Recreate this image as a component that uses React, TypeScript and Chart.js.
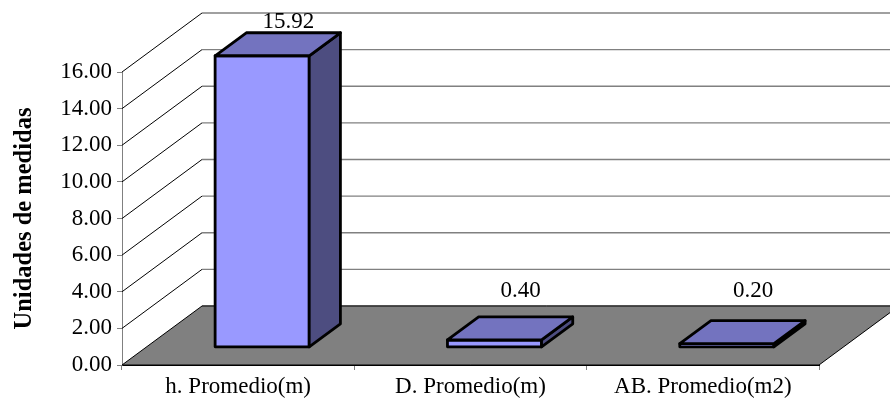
import React, { useEffect, useRef } from "react";
import { Chart, registerables } from "chart.js";

Chart.register(...registerables);

// Data
const categories = ["h. Promedio(m)", "D. Promedio(m)", "AB. Promedio(m2)"];
const values = [15.92, 0.4, 0.2];
const valueLabels = ["15.92", "0.40", "0.20"];
const yTitle = "Unidades de medidas";
const yMin = 0;
const yMax = 16;
const yStep = 2;

// Styling
const FONT_FAMILY = "'Liberation Serif', 'Times New Roman', serif";
const FONT_SIZE = 23;
const TITLE_SIZE = 24.5;
const DEPTH_X = 80; // receding direction of the 3D box
const DEPTH_Y = -59;
const BAR_FRONT = 0.3; // bar depth range as a fraction of the floor depth
const BAR_BACK = 0.69;
const FRONT_COLOR = "#9999FF";
const TOP_COLOR = "#7373BF";
const SIDE_COLOR = "#4D4D80";
const FLOOR_COLOR = "#808080";
const WALL_LINE = "#808080";

const box3d = {
  id: "box3d",
  beforeDatasetsDraw(chart: any) {
    const { ctx, chartArea, scales } = chart;
    const ys = scales.y;
    const left = chartArea.left;
    const right = chartArea.right;
    const y0 = ys.getPixelForValue(yMin);
    ctx.save();
    // back wall gridlines and their diagonals on the side wall
    for (let v = yMin; v <= yMax + 1e-9; v += yStep) {
      const py = ys.getPixelForValue(v);
      const bx = left + DEPTH_X;
      const by = py + DEPTH_Y;
      if (v > yMin) {
        ctx.strokeStyle = "#000";
        ctx.lineWidth = 1;
        ctx.beginPath();
        ctx.moveTo(left, py);
        ctx.lineTo(bx, by);
        ctx.stroke();
      }
      ctx.strokeStyle = WALL_LINE;
      ctx.lineWidth = 1.3;
      ctx.beginPath();
      ctx.moveTo(bx, by);
      ctx.lineTo(chart.width, by);
      ctx.stroke();
    }
    // floor
    ctx.fillStyle = FLOOR_COLOR;
    ctx.strokeStyle = "#000";
    ctx.lineWidth = 1;
    ctx.beginPath();
    ctx.moveTo(left, y0);
    ctx.lineTo(right, y0);
    ctx.lineTo(right + DEPTH_X, y0 + DEPTH_Y);
    ctx.lineTo(left + DEPTH_X, y0 + DEPTH_Y);
    ctx.closePath();
    ctx.fill();
    ctx.stroke();
    ctx.restore();
  },
  afterDatasetsDraw(chart: any) {
    const { ctx, scales } = chart;
    const ys = scales.y;
    const floorBack = ys.getPixelForValue(yMin) + DEPTH_Y;
    const meta = chart.getDatasetMeta(0);
    ctx.save();
    ctx.lineJoin = "round";
    meta.data.forEach((bar: any, i: number) => {
      const w = bar.width;
      const fx = BAR_FRONT * DEPTH_X;
      const fy = BAR_FRONT * DEPTH_Y;
      const dx = (BAR_BACK - BAR_FRONT) * DEPTH_X;
      const dy = (BAR_BACK - BAR_FRONT) * DEPTH_Y;
      const l = bar.x - w / 2 + fx;
      const r = bar.x + w / 2 + fx;
      const t = bar.y + fy;
      const b = bar.base + fy;
      ctx.strokeStyle = "#000";
      ctx.lineWidth = 2.8;
      // front face
      ctx.fillStyle = FRONT_COLOR;
      ctx.beginPath();
      ctx.rect(l, t, r - l, b - t);
      ctx.fill();
      ctx.stroke();
      // side face
      ctx.fillStyle = SIDE_COLOR;
      ctx.beginPath();
      ctx.moveTo(r, t);
      ctx.lineTo(r + dx, t + dy);
      ctx.lineTo(r + dx, b + dy);
      ctx.lineTo(r, b);
      ctx.closePath();
      ctx.fill();
      ctx.stroke();
      // top face
      ctx.fillStyle = TOP_COLOR;
      ctx.beginPath();
      ctx.moveTo(l, t);
      ctx.lineTo(l + dx, t + dy);
      ctx.lineTo(r + dx, t + dy);
      ctx.lineTo(r, t);
      ctx.closePath();
      ctx.fill();
      ctx.stroke();
      // value label
      const lx = bar.x + BAR_BACK * DEPTH_X - 5;
      const ly = Math.min(t + dy - 11, floorBack - 15);
      ctx.fillStyle = "#000";
      ctx.font = `${FONT_SIZE}px ${FONT_FAMILY}`;
      ctx.textAlign = "center";
      ctx.textBaseline = "middle";
      ctx.fillText(valueLabels[i], lx, ly);
    });
    ctx.restore();
  },
};

export default function App() {
  const canvasRef = useRef<HTMLCanvasElement | null>(null);

  useEffect(() => {
    const canvas = canvasRef.current;
    if (!canvas) return;
    const font = { family: FONT_FAMILY, size: FONT_SIZE };
    const chart = new Chart(canvas, {
      type: "bar",
      data: {
        labels: categories,
        datasets: [
          {
            data: values,
            backgroundColor: "rgba(0,0,0,0)",
            borderWidth: 0,
            barPercentage: 0.405,
            categoryPercentage: 1,
          },
        ],
      },
      plugins: [box3d],
      options: {
        responsive: false,
        animation: false,
        layout: { padding: { top: 72, right: 71, left: 0, bottom: 0 } },
        plugins: {
          legend: { display: false },
          tooltip: { enabled: false },
        },
        scales: {
          x: {
            grid: {
              offset: true,
              drawOnChartArea: false,
              drawTicks: true,
              tickLength: 5,
              color: "#808080",
            },
            border: { color: "#000", width: 1 },
            ticks: { font, color: "#000", padding: 3, maxRotation: 0 },
            afterFit: (s: any) => {
              s.height = 38;
            },
          },
          y: {
            min: yMin,
            max: yMax,
            ticks: {
              stepSize: yStep,
              font,
              color: "#000",
              padding: 5,
              callback: (v: any) => Number(v).toFixed(2),
            },
            grid: {
              drawOnChartArea: false,
              drawTicks: true,
              tickLength: 5,
              color: "#808080",
            },
            border: { color: "#808080", width: 1 },
            title: {
              display: true,
              text: yTitle,
              color: "#000",
              font: { family: FONT_FAMILY, size: TITLE_SIZE, weight: "bold" },
              padding: { top: 10, bottom: 0 },
            },
            afterFit: (s: any) => {
              s.width = 122;
            },
          },
        },
      },
    } as any);
    return () => chart.destroy();
  }, []);

  return (
    <div style={{ position: "absolute", left: 0, top: 0, width: 890, height: 403, background: "#fff" }}>
      <canvas ref={canvasRef} width={890} height={403} style={{ display: "block" }} />
    </div>
  );
}
